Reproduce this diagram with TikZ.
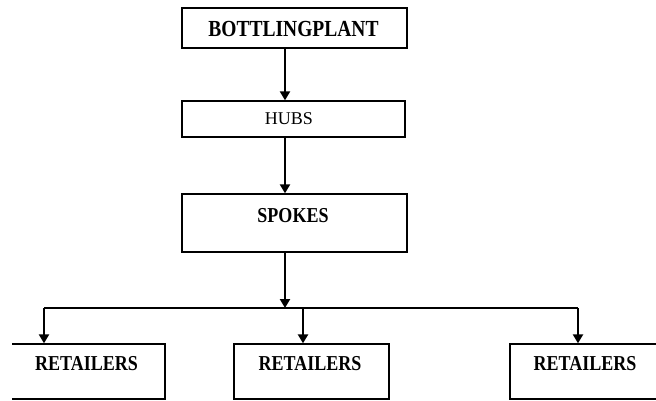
\documentclass[tikz,border=0pt]{standalone}
\usepackage{fontspec}
\usepackage{graphicx}
\setmainfont{Liberation Serif}
\usetikzlibrary{arrows.meta}
\newcommand{\tallbox}[1]{\scalebox{1}[1.18]{#1}}
\begin{document}
\begin{tikzpicture}[x=1pt,y=-1pt,
  box/.style={draw, line width=1.3pt, inner sep=0pt},
  txt/.style={inner sep=0pt, font=\bfseries\fontsize{18}{18}\selectfont},
  arr/.style={line width=2.2pt, -{Triangle[width=10pt,length=9pt]}},
  bus/.style={line width=1.6pt}]
\useasboundingbox (0,0) rectangle (656,401);
\begin{scope}
\clip (12,-5) rectangle (660,406);
% boxes
\node[box, minimum width=225pt, minimum height=40pt] (bp) at (294.5,28) {};
\node[box, minimum width=223pt, minimum height=36pt] (hb) at (293.5,119) {};
\node[box, minimum width=225pt, minimum height=58pt] (sp) at (294.5,223) {};
\node[box, minimum width=170pt, minimum height=55pt] (r1) at (80,371.5) {};
\node[box, minimum width=155pt, minimum height=55pt] (r2) at (311.5,371.5) {};
\node[box, minimum width=155pt, minimum height=55pt] (r3) at (587.5,371.5) {};
% texts
\node[txt, font=\bfseries\fontsize{19.5}{19.5}\selectfont] (tbp) at (293.5,28.5) {\tallbox{BOTTLINGPLANT}};
\node[txt, font=\fontsize{18}{18}\selectfont] (thb) at (289,119) {HUBS};
\node[txt] (tsp) at (293,215.5) {\tallbox{SPOKES}};
\node[txt] (tr1) at (86.5,364) {\tallbox{RETAILERS}};
\node[txt] (tr2) at (310,364) {\tallbox{RETAILERS}};
\node[txt] (tr3) at (585,364) {\tallbox{RETAILERS}};
% connector coordinates
\coordinate (cx) at (285,0);
\coordinate (j) at (285,308);
\coordinate (bl) at (44,308);
\coordinate (bm) at (303,308);
\coordinate (br) at (578,308);
% arrows
\draw[arr] (bp.south -| cx) -- (hb.north -| cx);
\draw[arr] (hb.south -| cx) -- (sp.north -| cx);
\draw[arr] (sp.south -| cx) -- (j);
\draw[bus] (bl) -- (br);
\draw[arr] (bl) -- (r1.north -| bl);
\draw[arr, line width=2.8pt] (bm) -- (r2.north -| bm);
\draw[arr] (br) -- (r3.north -| br);
\end{scope}
\end{tikzpicture}
\end{document}
